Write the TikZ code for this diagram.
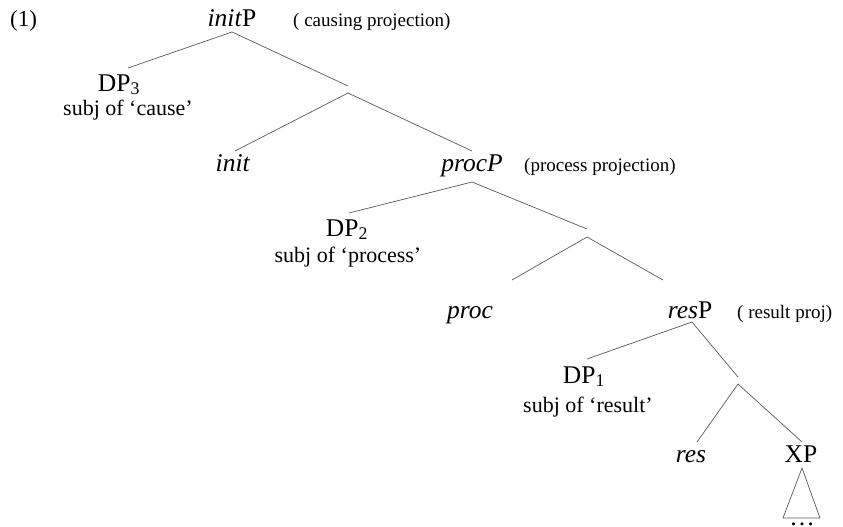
\documentclass[tikz,border=0pt]{standalone}
\usepackage{fontspec}
\setmainfont{Liberation Serif}
\begin{document}
\begin{tikzpicture}[x=1pt,y=-1pt,
  lbl/.style={inner sep=0pt,anchor=base,font=\fontsize{25.5}{25.5}\selectfont},
  sublbl/.style={inner sep=0pt,anchor=base,font=\fontsize{22}{22}\selectfont},
  ann/.style={inner sep=0pt,anchor=base west,font=\fontsize{19}{19}\selectfont},
  br/.style={draw=black!65,line width=0.7pt}]
\useasboundingbox (0,0) rectangle (843,527);
% labels
\node[ann,font=\fontsize{23}{23}\selectfont] (ex) at (10,27) {(1)};
\node[lbl] (initP) at (232,27) {\textit{init}P};
\node[ann] (annI) at (293,27) {( causing projection)};
\node[lbl] (DP3) at (119,91) {DP\textsubscript{3}};
\node[sublbl] (s3) at (128,115) {subj of ‘cause’};
\node[lbl] (init) at (233,171) {\textit{init}};
\node[lbl] (procP) at (472,171) {\textit{procP}};
\node[ann] (annP) at (524,171) {(process projection)};
\node[lbl] (DP2) at (347,236) {DP\textsubscript{2}};
\node[sublbl] (s2) at (348,262) {subj of ‘process’};
\node[lbl] (proc) at (470,318) {\textit{proc}};
\node[lbl] (resP) at (690,318) {\textit{res}P};
\node[ann] (annR) at (737,318) {( result proj)};
\node[lbl] (DP1) at (584,383) {DP\textsubscript{1}};
\node[sublbl] (s1) at (588,412) {subj of ‘result’};
\node[lbl] (res) at (691,462) {\textit{res}};
\node[lbl] (XP) at (801,462) {XP};
\node[lbl] (dots) at (802,525) {\dots};
% connector end points
\coordinate (initPb) at (232,32);
\coordinate (DP3t) at (128,68);
\coordinate (b1t) at (348,86);
\coordinate (b1b) at (348,93);
\coordinate (initt) at (235,151);
\coordinate (procPt) at (472,151);
\coordinate (procPb) at (472,182);
\coordinate (DP2t) at (349,213);
\coordinate (b2t) at (587,229);
\coordinate (b2b) at (587,237);
\coordinate (proct) at (512,280);
\coordinate (resPt) at (663,280);
\coordinate (resPb) at (692,322);
\coordinate (DP1t) at (587,359);
\coordinate (b3t) at (738,377);
\coordinate (b3b) at (738,384);
\coordinate (rest) at (697,442);
\coordinate (XPt) at (802,442);
\coordinate (XPb) at (802,468);
\coordinate (triL) at (783,518);
\coordinate (triR) at (820,518);
% branches
\draw[br] (DP3t) -- (initPb) -- (b1t);
\draw[br] (initt) -- (b1b) -- (procPt);
\draw[br] (DP2t) -- (procPb) -- (b2t);
\draw[br] (proct) -- (b2b) -- (resPt);
\draw[br] (DP1t) -- (resPb) -- (b3t);
\draw[br] (rest) -- (b3b) -- (XPt);
\draw[br] (XPb) -- (triL) -- (triR) -- cycle;
\end{tikzpicture}
\end{document}
